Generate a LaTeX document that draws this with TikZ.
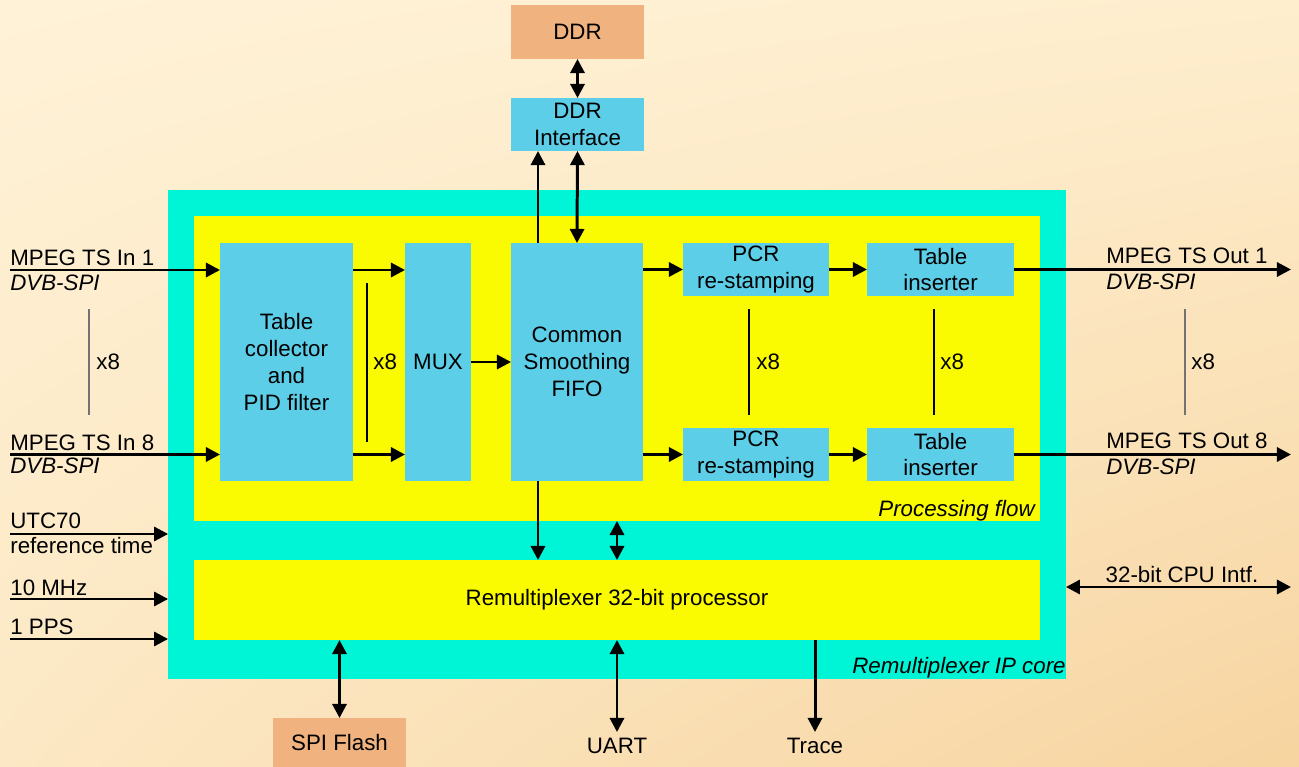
\documentclass[tikz,border=0pt]{standalone}
\usepackage{fontspec}
\setmainfont{Liberation Sans}
\usetikzlibrary{arrows.meta, shadings}

\definecolor{bgtl}{RGB}{255,242,215}
\definecolor{bgtr}{RGB}{254,238,206}
\definecolor{bgbl}{RGB}{252,232,196}
\definecolor{bgbr}{RGB}{247,212,160}
\definecolor{corecyan}{RGB}{0,245,215}
\definecolor{flowyellow}{RGB}{250,250,0}
\definecolor{boxblue}{RGB}{93,206,232}
\definecolor{memorange}{RGB}{240,178,126}

\begin{document}
\fontsize{12.7}{15.2}\selectfont
\begin{tikzpicture}[x=0.02cm, y=-0.02cm]
	\tikzstyle{block}=[fill=boxblue, inner sep=0pt, outer sep=0pt, align=center]
	\tikzstyle{mem}=[fill=memorange, inner sep=0pt, outer sep=0pt, align=center]
	\tikzstyle{area}=[inner sep=0pt, outer sep=0pt]
	\tikzstyle{txt}=[inner sep=0pt]
	\tikzstyle{arr}=[line width=1.7pt, -{Triangle[length=8pt, width=8pt]}]
	\tikzstyle{biarr}=[line width=1.7pt, {Triangle[length=8pt, width=8pt]}-{Triangle[length=8pt, width=8pt]}]
	\tikzstyle{rep}=[line width=0.6pt, black!55]

	% Background
	\useasboundingbox (0,0) rectangle (1299,767);
	\shade[upper left=bgtl, upper right=bgtr, lower left=bgbl, lower right=bgbr] (0,0) rectangle (1299,767);

	% Core and areas
	\node[area, fill=corecyan, minimum width=17.96cm, minimum height=9.78cm] (core) at (617,434.5) {};
	\node[area, fill=flowyellow, minimum width=16.92cm, minimum height=6.1cm] (flow) at (617,368.5) {};
	\node[area, fill=flowyellow, minimum width=16.92cm, minimum height=1.6cm] (proc) at (617,600) {Remultiplexer 32-bit processor};

	% Blocks
	\node[block, minimum width=2.66cm, minimum height=4.76cm] (tc) at (286.5,362) {Table\\collector\\and\\PID filter};
	\node[block, minimum width=1.32cm, minimum height=4.76cm] (mux) at (438,362) {MUX};
	\node[block, minimum width=2.64cm, minimum height=4.76cm] (fifo) at (577,362) {Common\\Smoothing\\FIFO};
	\node[block, minimum width=2.92cm, minimum height=1.06cm] (pcr1) at (756,269.5) {PCR\\re-stamping};
	\node[block, minimum width=2.92cm, minimum height=1.06cm] (pcr8) at (756,454.5) {PCR\\re-stamping};
	\node[block, minimum width=2.94cm, minimum height=1.06cm] (ti1) at (940.5,269.5) {Table\\inserter};
	\node[block, minimum width=2.94cm, minimum height=1.06cm] (ti8) at (940.5,454.5) {Table\\inserter};

	% Memories
	\node[mem, minimum width=2.66cm, minimum height=1.08cm] (ddr) at (577.5,32) {DDR};
	\node[block, minimum width=2.66cm, minimum height=1.06cm] (ddrif) at (577.5,124.5) {DDR\\Interface};
	\node[mem, minimum width=2.66cm, minimum height=0.98cm] (spi) at (339.5,742.5) {SPI Flash};

	% Free ends
	\coordinate (in1) at (10,270);
	\coordinate (in8) at (10,454.5);
	\coordinate (out1) at (1291,269.5);
	\coordinate (out8) at (1291,454.5);
	\coordinate (utc) at (10,534);
	\coordinate (mhz) at (10,599);
	\coordinate (pps) at (10,639);
	\coordinate (cpu) at (1291,587);
	\coordinate (uart) at (617,732);
	\coordinate (trace) at (815,732);
	\coordinate (ddrup) at (538,0);

	% Labels
	\node[txt, anchor=base west] (in1lbl) at (10,265) {MPEG TS In 1};
	\node[txt, anchor=base west, font=\itshape] (in1dvb) at (10,290) {DVB-SPI};
	\node[txt, anchor=base west] (in8lbl) at (10,450) {MPEG TS In 8};
	\node[txt, anchor=base west, font=\itshape] (in8dvb) at (10,473) {DVB-SPI};
	\node[txt, anchor=base west] (out1lbl) at (1106,263) {MPEG TS Out 1};
	\node[txt, anchor=base west, font=\itshape] (out1dvb) at (1106,289) {DVB-SPI};
	\node[txt, anchor=base west] (out8lbl) at (1106,448) {MPEG TS Out 8};
	\node[txt, anchor=base west, font=\itshape] (out8dvb) at (1106,474) {DVB-SPI};
	\node[txt, anchor=base west] (utclbl) at (10,528) {UTC70};
	\node[txt, anchor=base west] (reflbl) at (10,553) {reference time};
	\node[txt, anchor=base west] (mhzlbl) at (10,595) {10 MHz};
	\node[txt, anchor=base west] (ppslbl) at (10,634) {1 PPS};
	\node[txt, anchor=base] (cpulbl) at (1182,582) {32-bit CPU Intf.};
	\node[txt, anchor=base] (uartlbl) at (617,753) {UART};
	\node[txt, anchor=base] (tracelbl) at (815,753) {Trace};
	\node[txt, anchor=base east, font=\itshape] (flowlbl) at (1035,516) {Processing flow};
	\node[txt, anchor=base east, font=\itshape] (corelbl) at (1066,673) {Remultiplexer IP core};

	% Repetition marks
	\draw[rep] (89,309) -- (89,415);
	\draw[rep, black] (367,283) -- (367,442);
	\draw[rep, black] (749,309) -- (749,415);
	\draw[rep, black] (934,309) -- (934,415);
	\draw[rep] (1185,309) -- (1185,415);
	\node[txt, anchor=base west] (x8a) at (96,369) {x8};
	\node[txt, anchor=base west] (x8b) at (373,369) {x8};
	\node[txt, anchor=base west] (x8c) at (756,369) {x8};
	\node[txt, anchor=base west] (x8d) at (940,369) {x8};
	\node[txt, anchor=base west] (x8e) at (1191,369) {x8};

	% Connections
	\draw[arr] (in1) -- (tc.west |- in1);
	\draw[arr] (in8) -- (tc.west |- in8);
	\draw[arr] (tc.east |- in1) -- (mux.west |- in1);
	\draw[arr] (tc.east |- in8) -- (mux.west |- in8);
	\draw[arr] (mux.east) -- (fifo.west);
	\draw[arr] (fifo.east |- pcr1) -- (pcr1.west);
	\draw[arr] (fifo.east |- pcr8) -- (pcr8.west);
	\draw[arr] (pcr1.east) -- (ti1.west);
	\draw[arr] (pcr8.east) -- (ti8.west);
	\draw[arr] (ti1.east) -- (out1);
	\draw[arr] (ti8.east) -- (out8);

	\draw[biarr] (ddr.south) -- (ddrif.north);
	\draw[arr] (fifo.north -| ddrup) -- (ddrif.south -| ddrup);
	\draw[biarr] (fifo.north) -- (ddrif.south);
	\draw[arr] (fifo.south -| ddrup) -- (proc.north -| ddrup);
	\draw[biarr] (flow.south) -- (proc.north);

	\draw[arr] (utc) -- (core.west |- utc);
	\draw[arr] (mhz) -- (core.west |- mhz);
	\draw[arr] (pps) -- (core.west |- pps);
	\draw[biarr] (core.east |- cpu) -- (cpu);

	\draw[biarr] (proc.south -| spi.north) -- (spi.north);
	\draw[biarr] (proc.south) -- (uart);
	\draw[arr] (proc.south -| trace) -- (trace);
\end{tikzpicture}
\end{document}
